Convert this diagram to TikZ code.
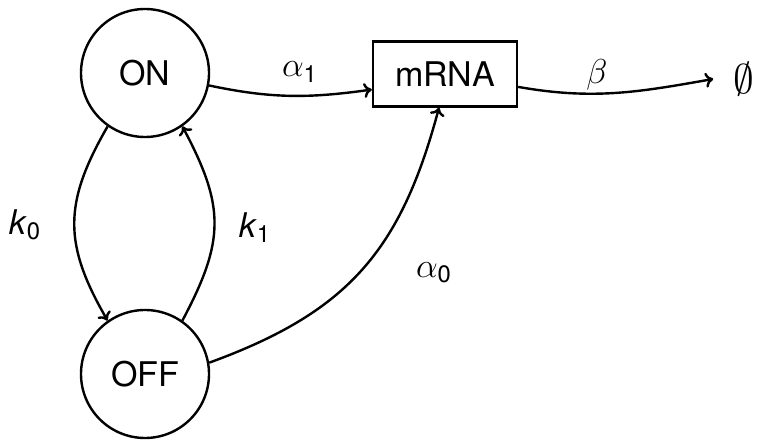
\documentclass[tikz,border=0pt]{standalone}
\usepackage{amsmath}
\usepackage{fontspec}
\setmainfont{TeX Gyre Heros}
\usetikzlibrary{arrows.meta}
\begin{document}
\begin{tikzpicture}[x=0.5pt,y=-0.5pt,
  every node/.style={font=\fontsize{17}{20}\selectfont},
  state/.style={draw,circle,line width=1.2pt,minimum size=64pt,inner sep=0pt},
  species/.style={draw,rectangle,line width=1.2pt,minimum width=72pt,minimum height=32.5pt,inner sep=0pt},
  conn/.style={line width=1.2pt,-{To[length=4pt,width=7.5pt]}},
  lbl/.style={inner sep=0pt}]
\useasboundingbox (0,0) rectangle (760,448);
\node[state] (on) at (145,73) {ON};
\node[state] (off) at (145,374) {OFF};
\node[species] (mrna) at (445,74) {mRNA};
\node[lbl,font=\fontsize{20}{22}\selectfont] (empty) at (744,79) {$\emptyset$};

\draw[conn] (on.-11) to[out=-12,in=188] (mrna.192);
\draw[conn] (mrna.-10) to[out=-10,in=190] ([xshift=-10]empty.west);
\draw[conn] (on.235) to[out=-120,in=120,looseness=1.17] (off.125);
\draw[conn] (off.55) to[out=62,in=-62,looseness=1.2] (on.-55);
\draw[conn] (off.10) to[out=20,in=-105,looseness=1.1] ([xshift=-3]mrna.south);

\node[lbl] (a1) at (300,72) {$\alpha_{\text{1}}$};
\node[lbl] (b) at (597,75) {$\beta$};
\node[lbl] (k0) at (25,225) {\textit{k}$_{\text{0}}$};
\node[lbl] (k1) at (255,228) {\textit{k}$_{\text{1}}$};
\node[lbl] (a0) at (434,273) {$\alpha_{\text{0}}$};
\end{tikzpicture}
\end{document}
